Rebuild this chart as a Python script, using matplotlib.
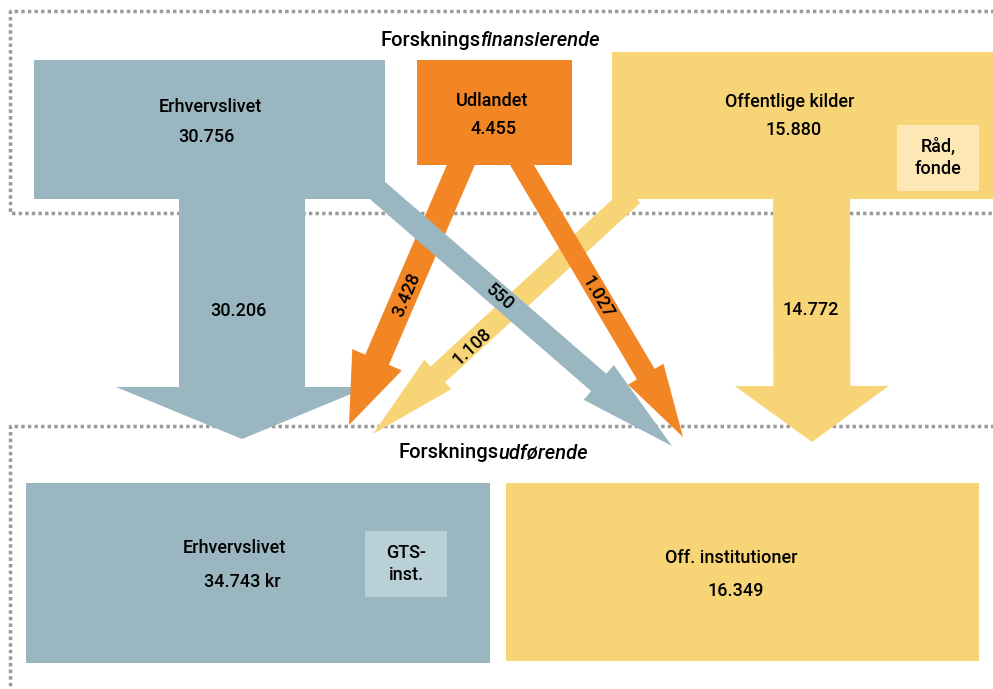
import matplotlib
matplotlib.use("Agg")
import math
import matplotlib.pyplot as plt
from matplotlib.patches import Rectangle, FancyArrow

# Data
top_names = ["Erhvervslivet", "Udlandet", "Offentlige kilder"]
top_values = [30756, 4455, 15880]
bottom_names = ["Erhvervslivet", "Off. institutioner"]
bottom_values = [34743, 16349]
# flows, in drawing order: Erhv->Erhv, Off->Off, Off->Erhv, Udl->Erhv, Erhv->Off, Udl->Off
flow_names = ["Erhvervslivet > Erhvervslivet", "Offentlige > Off. inst.", "Offentlige > Erhvervslivet",
              "Udlandet > Erhvervslivet", "Erhvervslivet > Off. inst.", "Udlandet > Off. inst."]
flow_values = [30206, 14772, 1108, 3428, 550, 1027]
sub_boxes = ["Råd,\nfonde", "GTS-\ninst."]

# Colours
BLUE = "#9AB6C0"
ORANGE = "#F28524"
YELLOW = "#F7D577"
LIGHT_YELLOW = "#FDE7B4"
LIGHT_BLUE = "#B9D0D7"
DOT = "#9A9A9A"
FONT = "Roboto"
FS = 13
WEIGHT = "medium"


def fmt(v):
    return f"{v:,}".replace(",", ".")


fig = plt.figure(figsize=(9.93, 6.89), dpi=100)
ax = fig.add_axes([0, 0, 1, 1])
ax.set_xlim(0, 993)
ax.set_ylim(689, 0)
ax.axis("off")

txt = dict(ha="center", va="center", fontsize=FS, family=FONT, fontweight=WEIGHT, zorder=6)

# dotted frames
dot_kw = dict(color=DOT, lw=2.5, linestyle=(0, (1, 0.9)), dash_capstyle="butt", zorder=1)
ax.plot([1000, 10, 10, 1000], [11, 11, 213, 213], **dot_kw)
ax.plot([1000, 10, 10], [426, 426, 700], **dot_kw)

# top boxes: x0, y0, x1, y1
top_boxes = [(34, 60, 385, 199, BLUE), (417, 60, 572, 165, ORANGE), (612, 52, 1000, 199, YELLOW)]
top_text = [(210, 107, 206, 137), (492, 101, 494, 129), (790, 102, 794, 130)]
for (x0, y0, x1, y1, c), name, val, (tx, ty, vx, vy) in zip(top_boxes, top_names, top_values, top_text):
    ax.add_patch(Rectangle((x0, y0), x1 - x0, y1 - y0, color=c, lw=0, zorder=2))
    ax.text(tx, ty, name, **txt)
    ax.text(vx, vy, fmt(val), **txt)

# bottom boxes
bottom_boxes = [(26, 483, 490, 663, BLUE), (506, 483, 979, 661, YELLOW)]
bottom_text = [(234, 548, 242, 582), (731, 558, 736, 591)]
bottom_units = [" kr", ""]
for (x0, y0, x1, y1, c), name, val, unit, (tx, ty, vx, vy) in zip(bottom_boxes, bottom_names, bottom_values, bottom_units, bottom_text):
    ax.add_patch(Rectangle((x0, y0), x1 - x0, y1 - y0, color=c, lw=0, zorder=2))
    ax.text(tx, ty, name, **txt)
    ax.text(vx, vy, fmt(val) + unit, **txt)

# small inner boxes
inner = [(897, 125, 979, 191, LIGHT_YELLOW), (365, 531, 447, 597, LIGHT_BLUE)]
for (x0, y0, x1, y1, c), label in zip(inner, sub_boxes):
    ax.add_patch(Rectangle((x0, y0), x1 - x0, y1 - y0, color=c, lw=0, zorder=3))
    ax.text((x0 + x1) / 2, (y0 + y1) / 2, label, linespacing=1.25, **txt)

# arrow layout: start, tip, shaft width, head width, head length, colour, label xy
arrows = [
    ((242, 190), (242, 439), 126, 252, 52, BLUE, (238, 311)),
    ((811.5, 190), (812, 442), 77, 154, 56, YELLOW, (811, 310)),
    ((633, 195), (373, 434), 21.5, 40, 88, YELLOW, (472, 347)),
    ((463, 160), (349, 425), 25.7, 54, 71, ORANGE, (407, 295)),
    ((370, 184), (672, 446), 23, 46, 97, BLUE, (500, 297)),
    ((519, 160), (683, 437), 20.6, 41, 73, ORANGE, (598, 297)),
]
for i, (((sx, sy), (ex, ey), w, hw, hl, c, (lx, ly)), v) in enumerate(zip(arrows, flow_values)):
    ax.add_patch(FancyArrow(sx, sy, ex - sx, ey - sy, width=w, head_width=hw, head_length=hl,
                            length_includes_head=True, color=c, lw=0, zorder=3 + i * 0.1))
    rot = math.degrees(math.atan2(-(ey - sy), ex - sx))
    if abs(rot) >= 90:
        rot = rot + 180 if rot < 0 else rot - 180
    if abs(abs(rot) - 90) < 1:
        rot = 0
    ax.text(lx, ly, fmt(v), rotation=rot, rotation_mode="anchor", **txt)


# headers with regular + italic part
def header(cx, cy, plain, ital):
    fig.canvas.draw()
    r = fig.canvas.get_renderer()
    kw = dict(ha="left", va="center", fontsize=14.5, family=FONT, fontweight=WEIGHT, zorder=6)
    t1 = ax.text(0, cy, plain, **kw)
    t2 = ax.text(0, cy, ital, style="italic", **kw)
    w1 = t1.get_window_extent(r).width
    w2 = t2.get_window_extent(r).width
    x0 = cx - (w1 + w2) / 2
    t1.set_x(x0)
    t2.set_x(x0 + w1)


header(490, 41, "Forsknings", "finansierende")
header(493, 453, "Forsknings", "udførende")

fig.savefig("out.png", dpi=100)
